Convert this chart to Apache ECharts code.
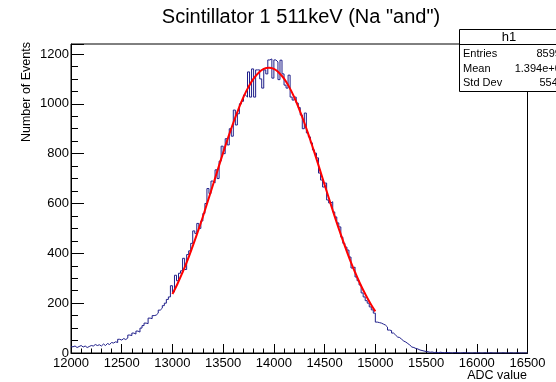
<!DOCTYPE html>
<html><head><meta charset="utf-8">
<script src="https://cdn.jsdelivr.net/npm/echarts@6/dist/echarts.min.js"></script>
<style>html,body{margin:0;padding:0;background:#fff}#c{width:556px;height:382px}</style>
</head><body><div id="c"></div>
<script>
// Histogram h1: bins of width 20 from 12000 to 16500
const binLow = 12000;
const binWidth = 20;
const counts = [
  25, 28, 22, 26, 30,   24, 28, 22, 26, 30,
  28, 34, 30, 33, 28,   36, 30, 38, 34, 42,
  40, 45, 42, 55, 52,   58, 54, 60, 72, 70,
  80, 76, 88, 84, 100,  110, 120, 118, 140, 138,
  150, 152, 160, 172, 180,  190, 200, 215, 225, 270,
  245, 312, 290, 320, 330,  380, 335, 395, 410, 440,
  490, 480, 520, 500, 530,  560, 600, 660, 640, 690,
  682, 735, 700, 770, 830,  800, 860, 835, 900, 870,
  975, 915, 960, 1000, 1010,  1035, 1027, 1128, 1027, 1140,
  1027, 1136, 1136, 1100, 1063,  1136, 1120, 1176, 1180, 1103,
  1176, 1168, 1097, 1175, 1120,  1075, 1063, 1115, 1027, 1015,
  1027, 1003, 985, 955, 900,  963, 883, 867, 843, 815,
  802, 783, 722, 694, 666,  682, 614, 602, 607, 566,
  546, 522, 506, 465, 440,  425, 413, 385, 341, 345,
  305, 290, 273, 241, 225,  210, 200, 185, 173, 160,
  124, 122, 120, 116, 112,  104, 92, 90, 80, 72,
  64, 62, 55, 48, 44,  38, 32, 24, 22, 18,
  16, 12, 10, 8, 6,  5, 3, 4, 2, 3,
  1, 3, 2, 1, 2,  2, 1, 0, 2, 1,
  1, 0, 1, 2, 0,  1, 0, 0, 1, 0,
  1, 0, 0, 1, 0,  0, 1, 0, 0, 0,
  0, 0, 1, 0, 0,  0, 1, 0, 0, 1,
  0, 0, 0, 0, 0
];
// Gaussian fit curve
const fitX = [13000,13050,13100,13150,13200,13250,13300,13350,13400,13450,13500,13550,13600,13650,13700,13750,13800,13850,13900,13950,
  14000,14050,14100,14150,14200,14250,14300,14350,14400,14450,14500,14550,14600,14650,14700,14750,14800,14850,14900,14950,15000];
const fitY = [237,278,324,374,429,487,547,611,675,740,804,866,924,978,1027,1068,1101,1125,1140,1145,
  1140,1125,1101,1068,1027,978,924,866,804,740,675,611,547,487,429,374,324,278,237,200,167];
const xTicks = [12000, 16500, 500];
const yTicks = [0, 1240, 200];
const titleText = 'Scintillator 1 511keV (Na "and")';
const statsName = 'h1';
const statsRows = [['Entries', '85993'], ['Mean', '1.394e+04'], ['Std Dev', '554.3']];

const histData = counts.map((v, i) => [binLow + i * binWidth, v]);
histData.push([binLow + counts.length * binWidth, counts[counts.length - 1]]);
const fitData = fitX.map((x, i) => [x, fitY[i]]);

const FONT = 'Liberation Sans, Arial, Helvetica, sans-serif';
const chart = echarts.init(document.getElementById('c'), null, {renderer: 'canvas'});

const statsGraphics = [
  {type: 'rect', shape: {x: 459.5, y: 29.5, width: 110, height: 62}, style: {fill: '#fff', stroke: '#000', lineWidth: 1}, z: 100},
  {type: 'line', shape: {x1: 459.5, y1: 44.5, x2: 570, y2: 44.5}, style: {stroke: '#000', lineWidth: 1}, z: 101},
  {type: 'text', x: 509, y: 37, style: {text: statsName, font: '13px ' + FONT, fill: '#000', textAlign: 'center', textVerticalAlign: 'middle'}, z: 101}
];
statsRows.forEach((r, i) => {
  statsGraphics.push({type: 'text', x: 463, y: 54 + i * 14.5, style: {text: r[0], font: '11px ' + FONT, fill: '#000', textAlign: 'left', textVerticalAlign: 'middle'}, z: 101});
  statsGraphics.push({type: 'text', x: 567, y: 54 + i * 14.5, style: {text: r[1], font: '11px ' + FONT, fill: '#000', textAlign: 'right', textVerticalAlign: 'middle'}, z: 101});
});

chart.setOption({
  animation: false,
  backgroundColor: '#fff',
  title: {text: titleText, left: 296, top: 2, textAlign: 'center',
    textStyle: {fontFamily: FONT, fontSize: 20, fontWeight: 'normal', color: '#000'}},
  grid: {left: 71, right: 28.5, top: 44, bottom: 29, show: true, borderColor: '#000', borderWidth: 1, backgroundColor: '#fff'},
  xAxis: {
    type: 'value', min: xTicks[0], max: xTicks[1], interval: xTicks[2],
    axisLine: {show: true, onZero: false, lineStyle: {color: '#000', width: 1}},
    axisTick: {show: true, inside: true, length: 9, lineStyle: {color: '#000'}},
    minorTick: {show: true, splitNumber: 5, length: 4.5, lineStyle: {color: '#000'}},
    splitLine: {show: false},
    axisLabel: {color: '#000', fontFamily: FONT, fontSize: 13, margin: 4, showMaxLabel: true, showMinLabel: true,
      formatter: v => String(v)}
  },
  yAxis: {
    type: 'value', min: yTicks[0], max: yTicks[1], interval: yTicks[2],
    axisLine: {show: true, lineStyle: {color: '#000', width: 1}},
    axisTick: {show: true, inside: true, length: 13, lineStyle: {color: '#000'}},
    minorTick: {show: true, splitNumber: 4, length: 7, lineStyle: {color: '#000'}},
    splitLine: {show: false},
    axisLabel: {color: '#000', fontFamily: FONT, fontSize: 13, margin: 2, showMaxLabel: false,
      formatter: v => (v % 200 === 0 ? String(v) : '')}
  },
  series: [
    {type: 'line', step: 'end', data: histData, showSymbol: false, symbol: 'none',
      lineStyle: {color: '#1f1f8a', width: 1}, z: 2},
    {type: 'line', data: fitData, smooth: true, showSymbol: false, symbol: 'none',
      lineStyle: {color: '#ff0000', width: 2}, z: 3}
  ],
  graphic: [
    {type: 'text', x: 527, y: 376, style: {text: 'ADC value', font: '12.5px ' + FONT, fill: '#000', textAlign: 'right', textVerticalAlign: 'middle'}},
    {type: 'text', x: 27, y: 42, rotation: Math.PI / 2, style: {text: 'Number of Events', font: '12.5px ' + FONT, fill: '#000', textAlign: 'right', textVerticalAlign: 'middle'}}
  ].concat(statsGraphics)
});
</script></body></html>
